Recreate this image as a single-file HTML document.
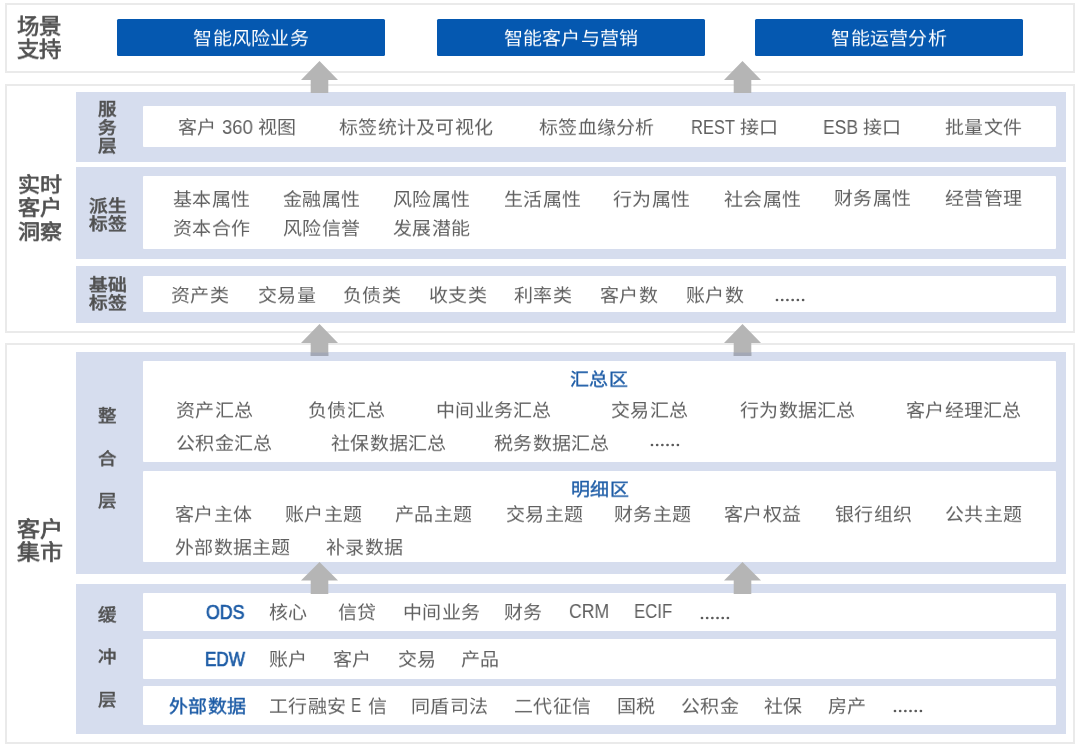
<!DOCTYPE html>
<html lang="zh-CN"><head><meta charset="utf-8"><title>客户集市</title>
<style>
html,body{margin:0;padding:0;background:#fff;}
body{width:1080px;height:747px;position:relative;overflow:hidden;font-family:"Liberation Sans",sans-serif;}
.t{position:absolute;white-space:nowrap;line-height:1;will-change:transform;}
.s{letter-spacing:0.25px;}
.s{transform:scaleY(0.92);transform-origin:0 0;}
.b{font-weight:bold;}
</style></head><body>
<div style="position:absolute;left:5px;top:3px;width:1070px;height:70px;box-sizing:border-box;border:2px solid #eaeaea;"></div>
<div style="position:absolute;left:5px;top:84px;width:1070px;height:249px;box-sizing:border-box;border:2px solid #eaeaea;"></div>
<div style="position:absolute;left:5px;top:343.3px;width:1070px;height:401.2px;box-sizing:border-box;border:2px solid #eaeaea;"></div>
<div style="position:absolute;left:117px;top:19px;width:268px;height:37px;background:#0558b0;border-radius:1.5px;"></div>
<div style="position:absolute;left:437px;top:19px;width:268px;height:37px;background:#0558b0;border-radius:1.5px;"></div>
<div style="position:absolute;left:755px;top:19px;width:268px;height:37px;background:#0558b0;border-radius:1.5px;"></div>
<div class="t s" style="left:117px;top:29.5px;width:268px;text-align:center;font-size:19px;color:#fff">智能风险业务</div>
<div class="t s" style="left:437px;top:29.5px;width:268px;text-align:center;font-size:19px;color:#fff">智能客户与营销</div>
<div class="t s" style="left:755px;top:29.5px;width:268px;text-align:center;font-size:19px;color:#fff">智能运营分析</div>
<div style="position:absolute;left:76px;top:92px;width:990px;height:69.69999999999999px;background:#d6ddee;"></div>
<div style="position:absolute;left:76px;top:167.3px;width:990px;height:91.5px;background:#d6ddee;"></div>
<div style="position:absolute;left:76px;top:265.5px;width:990px;height:57.0px;background:#d6ddee;"></div>
<div style="position:absolute;left:76px;top:351.8px;width:990px;height:222.2px;background:#d6ddee;"></div>
<div style="position:absolute;left:76px;top:583.9px;width:990px;height:150.10000000000002px;background:#d6ddee;"></div>
<div style="position:absolute;left:142.5px;top:105.8px;width:913.7px;height:41.7px;background:#fff;border-radius:1px;"></div>
<div style="position:absolute;left:142.5px;top:175.8px;width:913.7px;height:73.5px;background:#fff;border-radius:1px;"></div>
<div style="position:absolute;left:142.5px;top:275.6px;width:913.7px;height:36.1px;background:#fff;border-radius:1px;"></div>
<div style="position:absolute;left:142.5px;top:361px;width:913.7px;height:100.5px;background:#fff;border-radius:1px;"></div>
<div style="position:absolute;left:142.5px;top:470.6px;width:913.7px;height:91.8px;background:#fff;border-radius:1px;"></div>
<div style="position:absolute;left:142.5px;top:592.8px;width:913.7px;height:38.4px;background:#fff;border-radius:1px;"></div>
<div style="position:absolute;left:142.5px;top:639.2px;width:913.7px;height:39.5px;background:#fff;border-radius:1px;"></div>
<div style="position:absolute;left:142.5px;top:686px;width:913.7px;height:39.2px;background:#fff;border-radius:1px;"></div>
<div class="t" style="left:17.3px;top:16.92px;font-size:22.4px;color:#505050;-webkit-text-stroke:0.75px #505050;transform:scaleY(0.92);transform-origin:0 0">场景</div>
<div class="t" style="left:17.3px;top:39.92px;font-size:22.4px;color:#505050;-webkit-text-stroke:0.75px #505050;transform:scaleY(0.92);transform-origin:0 0">支持</div>
<div class="t" style="left:18px;top:174.92px;font-size:22px;color:#505050;-webkit-text-stroke:0.75px #505050;transform:scaleY(0.92);transform-origin:0 0">实时</div>
<div class="t" style="left:18px;top:198.22px;font-size:22px;color:#505050;-webkit-text-stroke:0.75px #505050;transform:scaleY(0.92);transform-origin:0 0">客户</div>
<div class="t" style="left:18px;top:221.52px;font-size:22px;color:#505050;-webkit-text-stroke:0.75px #505050;transform:scaleY(0.92);transform-origin:0 0">洞察</div>
<div class="t" style="left:17.2px;top:518.72px;font-size:23px;color:#505050;-webkit-text-stroke:0.75px #505050;transform:scaleY(0.92);transform-origin:0 0">客户</div>
<div class="t" style="left:17.2px;top:542.22px;font-size:23px;color:#505050;-webkit-text-stroke:0.75px #505050;transform:scaleY(0.92);transform-origin:0 0">集市</div>
<div class="t" style="left:98px;top:101.12px;font-size:18.5px;color:#505050;-webkit-text-stroke:0.75px #505050;transform:scaleY(0.92);transform-origin:0 0">服</div>
<div class="t" style="left:98px;top:119.62px;font-size:18.5px;color:#505050;-webkit-text-stroke:0.75px #505050;transform:scaleY(0.92);transform-origin:0 0">务</div>
<div class="t" style="left:98px;top:138.12px;font-size:18.5px;color:#505050;-webkit-text-stroke:0.75px #505050;transform:scaleY(0.92);transform-origin:0 0">层</div>
<div class="t" style="left:89px;top:197.52px;font-size:18.7px;color:#505050;-webkit-text-stroke:0.75px #505050;transform:scaleY(0.92);transform-origin:0 0">派生</div>
<div class="t" style="left:89px;top:215.72px;font-size:18.7px;color:#505050;-webkit-text-stroke:0.75px #505050;transform:scaleY(0.92);transform-origin:0 0">标签</div>
<div class="t" style="left:89px;top:276.52px;font-size:18.7px;color:#505050;-webkit-text-stroke:0.75px #505050;transform:scaleY(0.92);transform-origin:0 0">基础</div>
<div class="t" style="left:89px;top:294.72px;font-size:18.7px;color:#505050;-webkit-text-stroke:0.75px #505050;transform:scaleY(0.92);transform-origin:0 0">标签</div>
<div class="t" style="left:98px;top:407.82px;font-size:18.5px;color:#505050;-webkit-text-stroke:0.6px #505050;transform:scaleY(0.92);transform-origin:0 0">整</div>
<div class="t" style="left:98px;top:450.52px;font-size:18.5px;color:#505050;-webkit-text-stroke:0.6px #505050;transform:scaleY(0.92);transform-origin:0 0">合</div>
<div class="t" style="left:98px;top:493.02px;font-size:18.5px;color:#505050;-webkit-text-stroke:0.6px #505050;transform:scaleY(0.92);transform-origin:0 0">层</div>
<div class="t" style="left:98px;top:606.62px;font-size:18.5px;color:#505050;-webkit-text-stroke:0.6px #505050;transform:scaleY(0.92);transform-origin:0 0">缓</div>
<div class="t" style="left:98px;top:648.92px;font-size:18.5px;color:#505050;-webkit-text-stroke:0.6px #505050;transform:scaleY(0.92);transform-origin:0 0">冲</div>
<div class="t" style="left:98px;top:691.52px;font-size:18.5px;color:#505050;-webkit-text-stroke:0.6px #505050;transform:scaleY(0.92);transform-origin:0 0">层</div>
<div class="t s" style="left:178.2px;top:118.75px;font-size:19px;color:#606060;">客户</div>
<div class="t s" style="left:257.6px;top:118.75px;font-size:19px;color:#606060;">视图</div>
<div class="t s" style="left:339.40000000000003px;top:118.75px;font-size:19px;color:#606060;">标签统计及可视化</div>
<div class="t s" style="left:538.6px;top:118.75px;font-size:19px;color:#606060;">标签血缘分析</div>
<div class="t s" style="left:740.1px;top:118.75px;font-size:19px;color:#606060;">接口</div>
<div class="t s" style="left:862.6px;top:118.75px;font-size:19px;color:#606060;">接口</div>
<div class="t s" style="left:945.1px;top:118.75px;font-size:19px;color:#606060;">批量文件</div>
<div class="t" style="left:221.77px;top:116.80px;font-size:20px;color:#606060;transform:scaleX(0.925);transform-origin:0 0">360</div>
<div class="t" style="left:691.25px;top:116.70px;font-size:20px;color:#606060;transform:scaleX(0.825);transform-origin:0 0">REST</div>
<div class="t" style="left:822.95px;top:116.70px;font-size:20px;color:#606060;transform:scaleX(0.876);transform-origin:0 0">ESB</div>
<div class="t s" style="left:172.6px;top:191.25px;font-size:19px;color:#606060;">基本属性</div>
<div class="t s" style="left:283.1px;top:191.25px;font-size:19px;color:#606060;">金融属性</div>
<div class="t s" style="left:392.6px;top:191.25px;font-size:19px;color:#606060;">风险属性</div>
<div class="t s" style="left:503.6px;top:191.25px;font-size:19px;color:#606060;">生活属性</div>
<div class="t s" style="left:613.1px;top:191.25px;font-size:19px;color:#606060;">行为属性</div>
<div class="t s" style="left:724.1px;top:191.25px;font-size:19px;color:#606060;">社会属性</div>
<div class="t s" style="left:833.6px;top:189.6px;font-size:19px;color:#606060;">财务属性</div>
<div class="t s" style="left:944.6px;top:189.6px;font-size:19px;color:#606060;">经营管理</div>
<div class="t s" style="left:172.6px;top:219.75px;font-size:19px;color:#606060;">资本合作</div>
<div class="t s" style="left:283.1px;top:219.75px;font-size:19px;color:#606060;">风险信誉</div>
<div class="t s" style="left:392.6px;top:219.75px;font-size:19px;color:#606060;">发展潜能</div>
<div class="t s" style="left:171.1px;top:287px;font-size:19px;color:#606060;">资产类</div>
<div class="t s" style="left:257.6px;top:287px;font-size:19px;color:#606060;">交易量</div>
<div class="t s" style="left:343.1px;top:287px;font-size:19px;color:#606060;">负债类</div>
<div class="t s" style="left:429.1px;top:287px;font-size:19px;color:#606060;">收支类</div>
<div class="t s" style="left:514.1px;top:287px;font-size:19px;color:#606060;">利率类</div>
<div class="t s" style="left:600.1px;top:287px;font-size:19px;color:#606060;">客户数</div>
<div class="t s" style="left:685.6px;top:287px;font-size:19px;color:#606060;">账户数</div>
<div class="t s" style="left:570.2px;top:371.1px;font-size:19px;color:#1d5ca6;-webkit-text-stroke:0.4px #1d5ca6;">汇总区</div>
<div class="t s" style="left:175.6px;top:402px;font-size:19px;color:#606060;">资产汇总</div>
<div class="t s" style="left:308.1px;top:402px;font-size:19px;color:#606060;">负债汇总</div>
<div class="t s" style="left:435.6px;top:402px;font-size:19px;color:#606060;">中间业务汇总</div>
<div class="t s" style="left:610.6px;top:402px;font-size:19px;color:#606060;">交易汇总</div>
<div class="t s" style="left:740.1px;top:402px;font-size:19px;color:#606060;">行为数据汇总</div>
<div class="t s" style="left:905.6px;top:402px;font-size:19px;color:#606060;">客户经理汇总</div>
<div class="t s" style="left:175.6px;top:434.5px;font-size:19px;color:#606060;">公积金汇总</div>
<div class="t s" style="left:330.6px;top:434.5px;font-size:19px;color:#606060;">社保数据汇总</div>
<div class="t s" style="left:493.6px;top:434.5px;font-size:19px;color:#606060;">税务数据汇总</div>
<div class="t s" style="left:570.5px;top:480.6px;font-size:19px;color:#1d5ca6;-webkit-text-stroke:0.4px #1d5ca6;">明细区</div>
<div class="t s" style="left:175.1px;top:506px;font-size:19px;color:#606060;">客户主体</div>
<div class="t s" style="left:285.1px;top:506px;font-size:19px;color:#606060;">账户主题</div>
<div class="t s" style="left:395.1px;top:506px;font-size:19px;color:#606060;">产品主题</div>
<div class="t s" style="left:505.6px;top:506px;font-size:19px;color:#606060;">交易主题</div>
<div class="t s" style="left:614.1px;top:506px;font-size:19px;color:#606060;">财务主题</div>
<div class="t s" style="left:724.1px;top:506px;font-size:19px;color:#606060;">客户权益</div>
<div class="t s" style="left:834.6px;top:506px;font-size:19px;color:#606060;">银行组织</div>
<div class="t s" style="left:945.1px;top:506px;font-size:19px;color:#606060;">公共主题</div>
<div class="t s" style="left:175.1px;top:538.5px;font-size:19px;color:#606060;">外部数据主题</div>
<div class="t s" style="left:326.1px;top:538.5px;font-size:19px;color:#606060;">补录数据</div>
<div class="t" style="left:206.41px;top:602.20px;font-size:20px;color:#1d5ca6;-webkit-text-stroke:0.7px #1d5ca6;transform:scaleX(0.888);transform-origin:0 0">ODS</div>
<div class="t" style="left:204.94px;top:649.10px;font-size:20px;color:#1d5ca6;-webkit-text-stroke:0.7px #1d5ca6;transform:scaleX(0.857);transform-origin:0 0">EDW</div>
<div class="t s" style="left:169.0px;top:698.1px;font-size:19px;color:#1d5ca6;-webkit-text-stroke:0.45px #1d5ca6;">外部数据</div>
<div class="t s" style="left:268.6px;top:604px;font-size:19px;color:#606060;">核心</div>
<div class="t s" style="left:337.6px;top:604px;font-size:19px;color:#606060;">信贷</div>
<div class="t s" style="left:402.6px;top:604px;font-size:19px;color:#606060;">中间业务</div>
<div class="t s" style="left:503.6px;top:604px;font-size:19px;color:#606060;">财务</div>
<div class="t" style="left:568.52px;top:601.40px;font-size:20px;color:#606060;transform:scaleX(0.879);transform-origin:0 0">CRM</div>
<div class="t" style="left:633.92px;top:601.40px;font-size:20px;color:#606060;transform:scaleX(0.840);transform-origin:0 0">ECIF</div>
<div class="t s" style="left:268.6px;top:651px;font-size:19px;color:#606060;">账户</div>
<div class="t s" style="left:333.1px;top:651px;font-size:19px;color:#606060;">客户</div>
<div class="t s" style="left:397.6px;top:651px;font-size:19px;color:#606060;">交易</div>
<div class="t s" style="left:461.1px;top:651px;font-size:19px;color:#606060;">产品</div>
<div class="t s" style="left:269.1px;top:697.7px;font-size:19px;color:#606060;">工行融安</div>
<div class="t s" style="left:367.6px;top:697.7px;font-size:19px;color:#606060;">信</div>
<div class="t s" style="left:411.1px;top:697.7px;font-size:19px;color:#606060;">同盾司法</div>
<div class="t s" style="left:513.6px;top:697.7px;font-size:19px;color:#606060;">二代征信</div>
<div class="t s" style="left:616.6px;top:697.7px;font-size:19px;color:#606060;">国税</div>
<div class="t s" style="left:681.1px;top:697.7px;font-size:19px;color:#606060;">公积金</div>
<div class="t s" style="left:763.6px;top:697.7px;font-size:19px;color:#606060;">社保</div>
<div class="t s" style="left:827.6px;top:697.7px;font-size:19px;color:#606060;">房产</div>
<div class="t" style="left:351.17px;top:695.10px;font-size:20px;color:#606060;transform:scaleX(0.764);transform-origin:0 0">E</div>
<svg style="position:absolute;left:773.10px;top:296.00px" width="34.10" height="8"><circle cx="4.00" cy="4" r="1.35" fill="#5a5a5a"/><circle cx="9.22" cy="4" r="1.35" fill="#5a5a5a"/><circle cx="14.44" cy="4" r="1.35" fill="#5a5a5a"/><circle cx="19.66" cy="4" r="1.35" fill="#5a5a5a"/><circle cx="24.88" cy="4" r="1.35" fill="#5a5a5a"/><circle cx="30.10" cy="4" r="1.35" fill="#5a5a5a"/></svg>
<svg style="position:absolute;left:648.30px;top:441.00px" width="33.90" height="8"><circle cx="4.00" cy="4" r="1.35" fill="#5a5a5a"/><circle cx="9.18" cy="4" r="1.35" fill="#5a5a5a"/><circle cx="14.36" cy="4" r="1.35" fill="#5a5a5a"/><circle cx="19.54" cy="4" r="1.35" fill="#5a5a5a"/><circle cx="24.72" cy="4" r="1.35" fill="#5a5a5a"/><circle cx="29.90" cy="4" r="1.35" fill="#5a5a5a"/></svg>
<svg style="position:absolute;left:697.60px;top:613.50px" width="33.90" height="8"><circle cx="4.00" cy="4" r="1.35" fill="#5a5a5a"/><circle cx="9.18" cy="4" r="1.35" fill="#5a5a5a"/><circle cx="14.36" cy="4" r="1.35" fill="#5a5a5a"/><circle cx="19.54" cy="4" r="1.35" fill="#5a5a5a"/><circle cx="24.72" cy="4" r="1.35" fill="#5a5a5a"/><circle cx="29.90" cy="4" r="1.35" fill="#5a5a5a"/></svg>
<svg style="position:absolute;left:891.20px;top:707.30px" width="33.90" height="8"><circle cx="4.00" cy="4" r="1.35" fill="#5a5a5a"/><circle cx="9.18" cy="4" r="1.35" fill="#5a5a5a"/><circle cx="14.36" cy="4" r="1.35" fill="#5a5a5a"/><circle cx="19.54" cy="4" r="1.35" fill="#5a5a5a"/><circle cx="24.72" cy="4" r="1.35" fill="#5a5a5a"/><circle cx="29.90" cy="4" r="1.35" fill="#5a5a5a"/></svg>
<svg style="position:absolute;left:301.0px;top:61px" width="37" height="32" viewBox="0 0 37 32"><polygon points="18.5,0 37,19 27.3,19 27.3,32 9.7,32 9.7,19 0,19" fill="#b5b5b5"/></svg>
<svg style="position:absolute;left:724.1px;top:61px" width="37" height="32" viewBox="0 0 37 32"><polygon points="18.5,0 37,19 27.3,19 27.3,32 9.7,32 9.7,19 0,19" fill="#b5b5b5"/></svg>
<svg style="position:absolute;left:301.0px;top:323.5px" width="37" height="32.5" viewBox="0 0 37 32.5"><polygon points="18.5,0 37,19.0 27.3,19.0 27.3,32.5 9.7,32.5 9.7,19.0 0,19.0" fill="#b5b5b5"/><rect x="9.7" y="28.5" width="17.6" height="4" fill="#a3a8b6"/></svg>
<svg style="position:absolute;left:724.1px;top:323.5px" width="37" height="32.5" viewBox="0 0 37 32.5"><polygon points="18.5,0 37,19.0 27.3,19.0 27.3,32.5 9.7,32.5 9.7,19.0 0,19.0" fill="#b5b5b5"/><rect x="9.7" y="28.5" width="17.6" height="4" fill="#a3a8b6"/></svg>
<svg style="position:absolute;left:301.0px;top:562px" width="37" height="32" viewBox="0 0 37 32"><polygon points="18.5,0 37,18.5 27.3,18.5 27.3,32 9.7,32 9.7,18.5 0,18.5" fill="#b5b5b5"/></svg>
<svg style="position:absolute;left:724.1px;top:562px" width="37" height="32" viewBox="0 0 37 32"><polygon points="18.5,0 37,18.5 27.3,18.5 27.3,32 9.7,32 9.7,18.5 0,18.5" fill="#b5b5b5"/></svg>
</body></html>
